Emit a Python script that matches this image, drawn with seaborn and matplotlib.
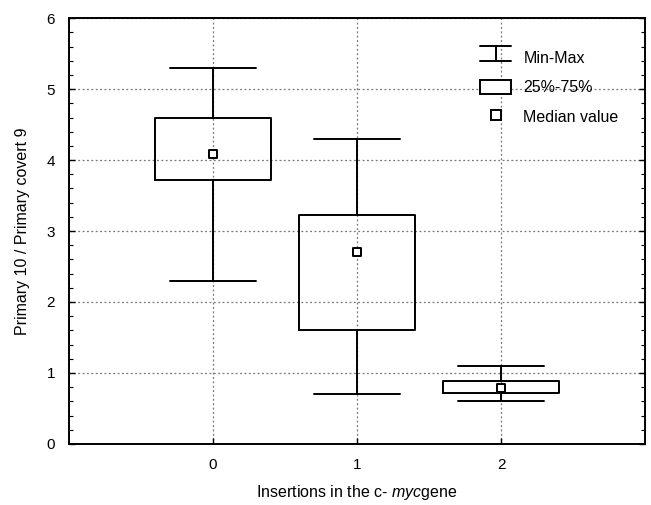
"""Box chart: primary 10 / primary covert 9 ratio by c-myc insertions."""

import matplotlib
matplotlib.use("Agg")
import matplotlib.pyplot as plt
from matplotlib.lines import Line2D
from matplotlib.patches import Rectangle
from matplotlib.ticker import MultipleLocator
import pandas as pd
import seaborn as sns

# values
insertions = [0, 1, 2]
mins = [2.3, 0.7, 0.6]
q1 = [3.72, 1.6, 0.72]
medians = [4.08, 2.7, 0.79]
q3 = [4.6, 3.22, 0.89]
maxs = [5.3, 4.3, 1.1]

sns.set_style("white")
plt.rcParams["font.family"] = ["Liberation Sans", "DejaVu Sans"]
plt.rcParams["mathtext.fontset"] = "custom"
plt.rcParams["mathtext.it"] = "Liberation Sans:italic"
plt.rcParams["mathtext.rm"] = "Liberation Sans"
plt.rcParams["text.color"] = "black"
plt.rcParams["axes.labelcolor"] = "black"

fig = plt.figure(figsize=(6.51, 5.05), dpi=100)
ax = fig.add_axes([0.106, 0.121, 0.885, 0.843])

stats = [
    {"whislo": lo, "q1": a, "med": m, "q3": b, "whishi": hi, "label": str(x)}
    for x, lo, a, m, b, hi in zip(insertions, mins, q1, medians, q3, maxs)
]
lw = 1.4
ax.bxp(
    stats,
    positions=insertions,
    widths=0.81,
    showfliers=False,
    showcaps=True,
    boxprops=dict(color="black", linewidth=lw),
    whiskerprops=dict(color="black", linewidth=lw),
    capprops=dict(color="black", linewidth=lw),
    medianprops=dict(linewidth=0),
    capwidths=0.6,
    zorder=3,
)

# median squares
med_df = pd.DataFrame({"x": insertions, "median": medians})
sns.scatterplot(data=med_df, x="x", y="median", marker="s", s=40,
                facecolor="white", edgecolor="black", linewidth=1.4,
                zorder=4, ax=ax)

ax.set_xlim(-1, 3)
ax.set_ylim(0, 6)
ax.set_xticks(insertions)
ax.set_xticklabels([str(i) for i in insertions])
ax.yaxis.set_major_locator(MultipleLocator(1))
ax.yaxis.set_minor_locator(MultipleLocator(0.2))
ax.grid(True, which="major", color="#777777", linestyle=(0, (1.5, 2)), linewidth=0.9)
ax.set_axisbelow(True)
for s in ax.spines.values():
    s.set_color("black")
    s.set_linewidth(1.4)
ax.tick_params(axis="both", which="both", direction="in", left=True, right=True,
               bottom=True, labelsize=11, colors="black")
ax.tick_params(axis="both", which="major", length=4, width=1)
ax.tick_params(axis="y", which="minor", length=3, width=0.8)
ax.tick_params(axis="x", pad=10)
ax.tick_params(axis="y", pad=10)

ax.set_xlabel("Insertions in the c- $\\mathit{myc}$gene", fontsize=11.5, labelpad=8)
ax.set_ylabel("Primary 10 / Primary covert 9", fontsize=11.5, labelpad=12)


class CapHandler:
    """Legend glyph for the min-max whisker: two caps joined by a stem."""

    def legend_artist(self, legend, orig_handle, fontsize, handlebox):
        x0, y0 = handlebox.xdescent, handlebox.ydescent
        w, h = handlebox.width, handlebox.height
        xc = x0 + w / 2
        top = Line2D([x0, x0 + w], [y0 + h, y0 + h], color="black", linewidth=lw)
        bot = Line2D([x0, x0 + w], [y0, y0], color="black", linewidth=lw)
        mid = Line2D([xc, xc], [y0, y0 + h], color="black", linewidth=lw)
        for a in (top, bot, mid):
            a.set_transform(handlebox.get_transform())
            handlebox.add_artist(a)
        return top


cap_handle = Line2D([0], [0], color="black", linewidth=lw)
handles = [
    cap_handle,
    Rectangle((0, 0), 1, 1, facecolor="white", edgecolor="black", linewidth=lw),
    Line2D([0], [0], linestyle="none", marker="s", markersize=6.5,
           markerfacecolor="white", markeredgecolor="black", markeredgewidth=1.4),
]
ax.legend(handles, ["Min-Max", "25%-75%", "Median value"],
          handler_map={cap_handle: CapHandler()},
          loc="upper left", bbox_to_anchor=(0.714, 0.925), frameon=False,
          fontsize=11.5, handlelength=1.9, handleheight=1.05,
          labelspacing=0.85, handletextpad=0.8, borderpad=0, borderaxespad=0)

fig.savefig("out.png", dpi=100)
